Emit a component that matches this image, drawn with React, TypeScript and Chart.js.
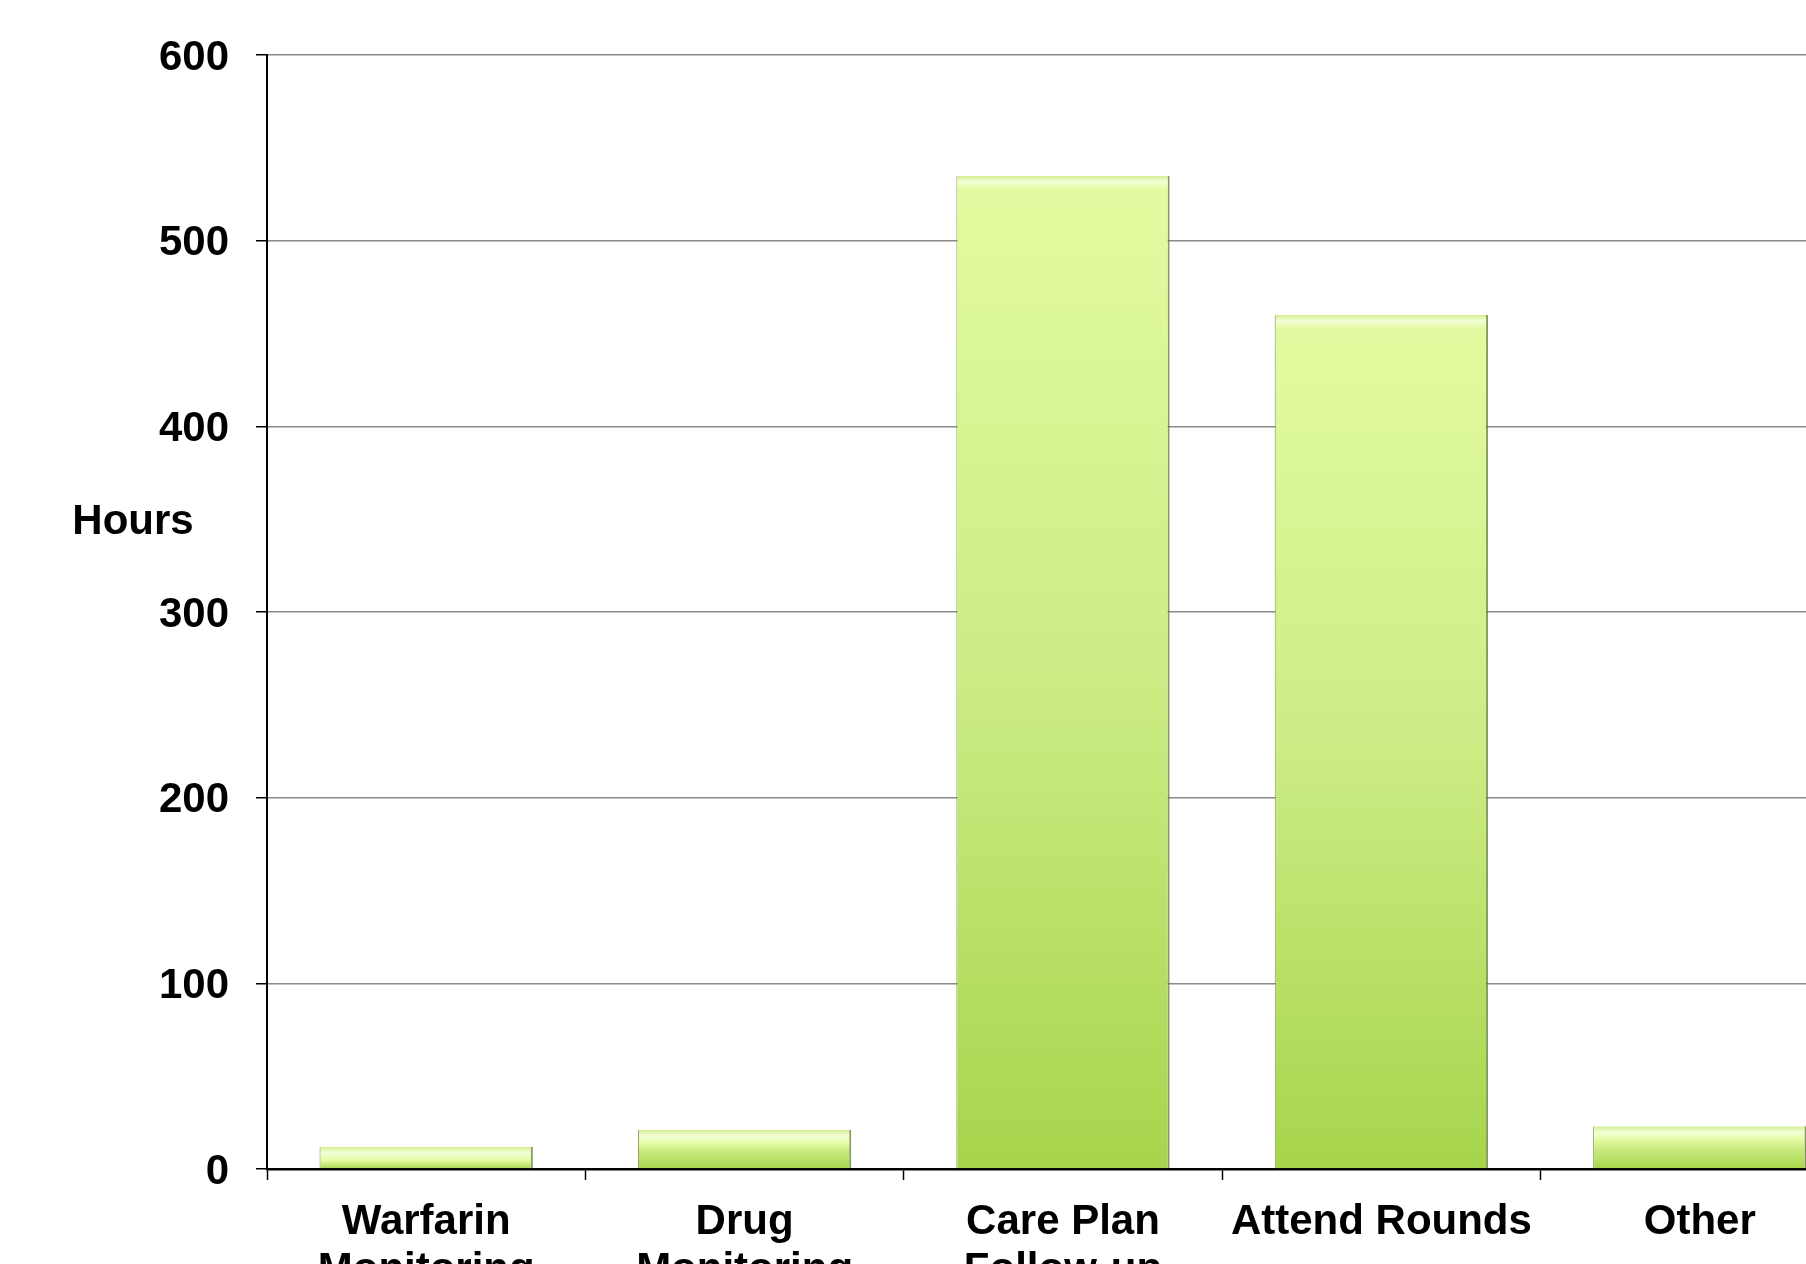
import React, { useEffect, useRef } from "react";
import { Chart, registerables } from "chart.js";

Chart.register(...registerables);

const categories: (string | string[])[] = [
  ["Warfarin", "Monitoring"],
  ["Drug", "Monitoring"],
  ["Care Plan", "Follow-up"],
  "Attend Rounds",
  "Other",
];
const hours = [12, 21, 535, 460, 23];
const yMin = 0;
const yMax = 600;
const yStep = 100;
const yTitle = "Hours";

const CANVAS_W = 1870;
const CANVAS_H = 1330;
const FONT = "'Liberation Sans', Arial, sans-serif";

export default function App() {
  const ref = useRef<HTMLCanvasElement | null>(null);

  useEffect(() => {
    if (!ref.current) return;
    const titlePlugin = {
      id: "hoursTitle",
      afterDraw(chart: any) {
        const { ctx, chartArea, scales } = chart;
        ctx.save();
        ctx.font = `bold 42px ${FONT}`;
        ctx.fillStyle = "#000";
        ctx.textAlign = "center";
        ctx.textBaseline = "middle";
        ctx.fillText(yTitle, chartArea.left - 134, scales.y.getPixelForValue(348));
        ctx.restore();
      },
    };
    const chart = new Chart(ref.current, {
      type: "bar",
      data: {
        labels: categories,
        datasets: [
          {
            data: hours,
            backgroundColor: (c: any) => {
              const ch = c.chart;
              const ys = ch.scales && ch.scales.y;
              if (!ch.chartArea || !ys || c.type !== "data") return "#c8ea7e";
              const top = ys.getPixelForValue(c.raw);
              const bottom = ys.getPixelForValue(0);
              const h = bottom - top;
              if (!isFinite(h) || h < 1) return "#c8ea7e";
              const g = ch.ctx.createLinearGradient(0, top, 0, bottom);
              const f = (px: number) => Math.min(px / h, 1);
              g.addColorStop(0, "#d2ee90");
              g.addColorStop(f(6), "#f4ffd6");
              g.addColorStop(f(14), "#e2fba0");
              if (0.5 > f(14)) g.addColorStop(0.5, "#cdec85");
              g.addColorStop(1, "#a6d54c");
              return g;
            },
            borderColor: "rgba(95,120,40,0.75)",
            borderWidth: { left: 1, right: 2, top: 0, bottom: 0 },
            borderSkipped: false,
            barPercentage: 0.67,
            categoryPercentage: 1,
          },
        ],
      },
      options: {
        animation: false,
        responsive: false,
        devicePixelRatio: 1,
        layout: { padding: { left: 67, top: 55, right: CANVAS_W - 1859, bottom: 0 } },
        plugins: { legend: { display: false }, tooltip: { enabled: false } },
        scales: {
          x: {
            afterFit: (s: any) => {
              s.height = CANVAS_H - 1169;
            },
            grid: {
              display: true,
              drawOnChartArea: false,
              tickLength: 11,
              tickColor: "#000",
              tickWidth: 1.5,
              offset: true,
            },
            border: { display: true, color: "#000", width: 2.5 },
            ticks: {
              color: "#000",
              padding: 18,
              maxRotation: 0,
              autoSkip: false,
              font: { family: FONT, size: 42, weight: "bold", lineHeight: 1.15 },
            },
          },
          y: {
            min: yMin,
            max: yMax,
            afterFit: (s: any) => {
              s.width = 200;
            },
            grid: {
              color: "#8a8a8a",
              lineWidth: 1.5,
              tickColor: "#000",
              tickLength: 11,
              tickWidth: 1.5,
            },
            border: { display: true, color: "#000", width: 2 },
            ticks: {
              stepSize: yStep,
              color: "#000",
              padding: 27,
              labelOffset: 3,
              font: { family: FONT, size: 42, weight: "bold" },
            },
          },
        },
      },
      plugins: [titlePlugin],
    } as any);
    return () => chart.destroy();
  }, []);

  return (
    <div style={{ position: "fixed", left: 0, top: 0, width: "100vw", height: "100vh", overflow: "hidden", background: "#fff" }}>
      <canvas ref={ref} width={CANVAS_W} height={CANVAS_H} style={{ position: "absolute", left: 0, top: 0 }} />
    </div>
  );
}
